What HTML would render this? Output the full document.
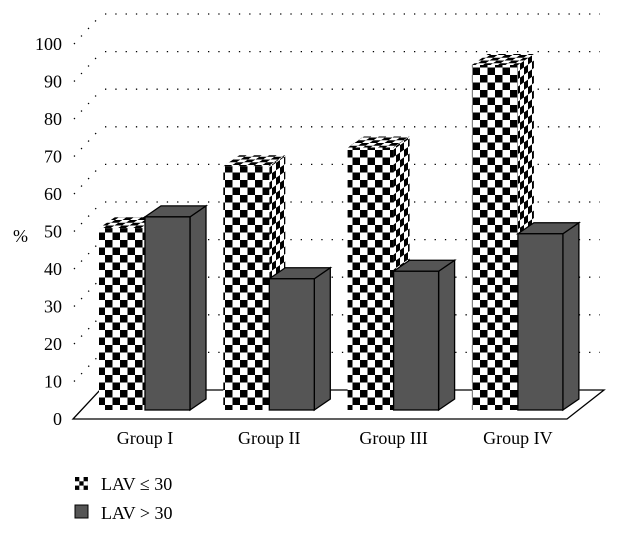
<!DOCTYPE html>
<html><head><meta charset="utf-8"><style>
body{margin:0;background:#fff}
svg{display:block;font-family:"Liberation Serif",serif}
</style></head><body>
<svg id="chart" width="618" height="533" viewBox="0 0 618 533" xmlns="http://www.w3.org/2000/svg">
<defs>
<pattern id="chk" width="15" height="15" patternUnits="userSpaceOnUse">
<rect width="15" height="15" fill="#fff"/><rect width="7.5" height="7.5" fill="#000"/><rect x="7.5" y="7.5" width="7.5" height="7.5" fill="#000"/>
</pattern>
<pattern id="chkSide" width="8" height="15" patternUnits="userSpaceOnUse" patternTransform="skewY(-34.5)">
<rect width="8" height="15" fill="#fff"/><rect width="4" height="7.5" fill="#000"/><rect x="4" y="7.5" width="4" height="7.5" fill="#000"/>
</pattern>
<pattern id="chkTop" width="15" height="5.5" patternUnits="userSpaceOnUse" patternTransform="skewX(-55.5)">
<rect width="15" height="5.5" fill="#fff"/><rect width="7.5" height="2.75" fill="#000"/><rect x="7.5" y="2.75" width="7.5" height="2.75" fill="#000"/>
</pattern>
<pattern id="chkS" x="75" y="477" width="8.6" height="8.6" patternUnits="userSpaceOnUse">
<rect width="8.6" height="8.6" fill="#fff"/><rect width="4.3" height="4.3" fill="#000"/><rect x="4.3" y="4.3" width="4.3" height="4.3" fill="#000"/>
</pattern>
</defs>
<g id="grid"></g>
<polygon points="73,419 567,419 604,390 100,390" fill="#fff" stroke="#000" stroke-width="1.3"/>
<g id="bars"></g>
<g id="labels"></g>
<text x="13" y="242" font-size="18">%</text>
<g>
<g>
<rect x="75" y="477" width="13" height="13" fill="url(#chkS)"/>
<text x="101" y="490" font-size="18">LAV ≤ 30</text></g>
<g>
<rect x="75" y="505" width="13" height="13" fill="#555" stroke="#000"/>
<text x="101" y="519" font-size="18">LAV &gt; 30</text></g>
</g>
</svg>
<script>
const categories=["Group I","Group II","Group III","Group IV"];
const lavLow=[48.5,65,70,92];
const lavHigh=[51.5,35,37,47];
const ticks=[0,10,20,30,40,50,60,70,80,90,100];
const NS="http://www.w3.org/2000/svg";
function mk(t,a,p){const e=document.createElementNS(NS,t);for(const k in a)e.setAttribute(k,a[k]);p.appendChild(e);return e;}
const yFront=v=>419-v*3.75, yBack=v=>390-v*3.76, yBar=v=>410-v*3.75;
const xGroup=i=>99+i*124.3;
const grid=document.getElementById('grid'),labels=document.getElementById('labels'),bars=document.getElementById('bars');
ticks.forEach(t=>{
  if(t>0){
  const l=mk('line',{x1:105,y1:yBack(t),x2:600,y2:yBack(t),stroke:'#000','stroke-width':1.3,'stroke-dasharray':'1.3 9'},grid);
  
  
  const d=mk('line',{x1:74,y1:yFront(t),x2:102,y2:yBack(t),stroke:'#000','stroke-width':1.3,'stroke-dasharray':'1.3 9'},grid);
  
  
  }
  const tx=mk('text',{x:62,y:yFront(t)+6,'text-anchor':'end','font-size':18},labels);
  tx.textContent=t;
  
  
});
function bar(x,w,v,name,dark){
  const g=mk('g',{},bars);
  
  
  const top=yBar(v),b=410,dx=16,dy=11;
  const st=dark?{stroke:'#000','stroke-width':1.3}:{};
  mk('polygon',Object.assign({points:`${x+w},${b} ${x+w+dx},${b-dy} ${x+w+dx},${top-dy} ${x+w},${top}`,fill:dark?'#555':'url(#chkSide)'},st),g);
  mk('polygon',Object.assign({points:`${x},${top} ${x+dx},${top-dy} ${x+w+dx},${top-dy} ${x+w},${top}`,fill:dark?'#555':'url(#chkTop)'},st),g);
  mk('rect',Object.assign({x:x,y:top,width:w,height:b-top,fill:dark?'#555':'url(#chk)'},st),g);
}
categories.forEach((c,i)=>{
  const x=xGroup(i);
  bar(x,46,lavLow[i],'bar-lav-le-30-'+(i+1),false);
  bar(x+46,45,lavHigh[i],'bar-lav-gt-30-'+(i+1),true);
  const t=mk('text',{x:x+46,y:444,'text-anchor':'middle','font-size':18},labels);
  t.textContent=c;
  
  
});
</script>
</body></html>
